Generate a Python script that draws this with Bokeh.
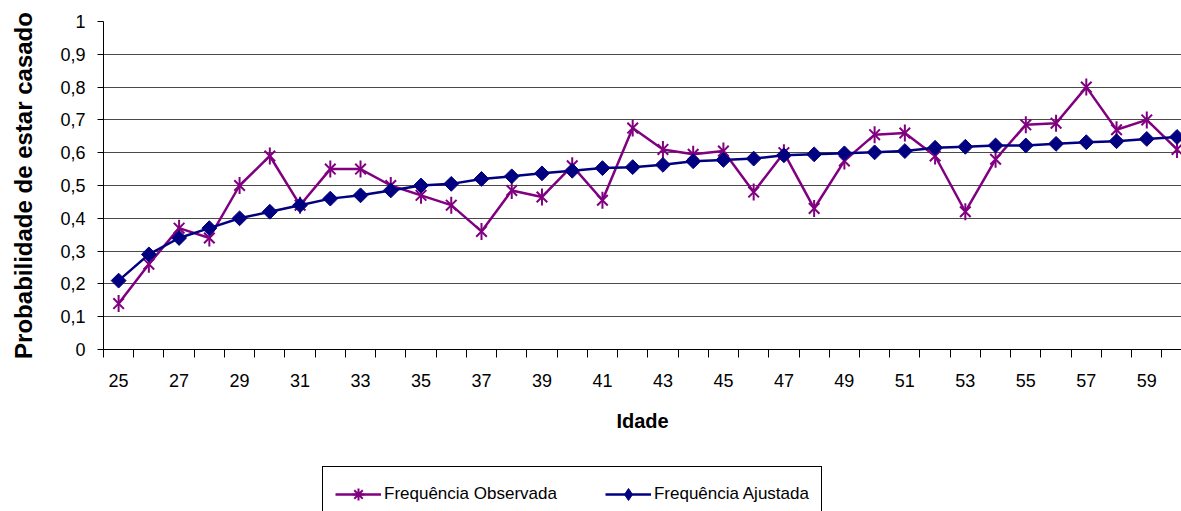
from bokeh.plotting import figure
from bokeh.models import Range1d, FixedTicker, Legend, LegendItem
from bokeh.layouts import column
from bokeh.embed import file_html
from bokeh.resources import INLINE
import math

# ---- data ----
ages = [25, 26, 27, 28, 29, 30, 31, 32, 33, 34, 35, 36, 37, 38, 39, 40, 41, 42,
        43, 44, 45, 46, 47, 48, 49, 50, 51, 52, 53, 54, 55, 56, 57, 58, 59, 60]
freq_observada = [0.14, 0.26, 0.37, 0.34, 0.50, 0.59, 0.44, 0.55, 0.55, 0.50, 0.47, 0.44,
                  0.36, 0.485, 0.465, 0.56, 0.455, 0.675, 0.61, 0.595, 0.605, 0.48, 0.60, 0.43,
                  0.575, 0.655, 0.66, 0.59, 0.42, 0.58, 0.685, 0.69, 0.80, 0.67, 0.70, 0.61]
freq_ajustada = [0.21, 0.29, 0.34, 0.37, 0.40, 0.42, 0.44, 0.46, 0.47, 0.485, 0.50, 0.505,
                 0.52, 0.528, 0.537, 0.545, 0.553, 0.556, 0.563, 0.574, 0.578, 0.582, 0.592, 0.595,
                 0.598, 0.601, 0.605, 0.615, 0.618, 0.622, 0.622, 0.627, 0.632, 0.635, 0.642, 0.648]
x_tick_labels = [25, 27, 29, 31, 33, 35, 37, 39, 41, 43, 45, 47, 49, 51, 53, 55, 57, 59]
y_ticks = [0, 0.1, 0.2, 0.3, 0.4, 0.5, 0.6, 0.7, 0.8, 0.9, 1.0]
y_tick_labels = ["0", "0,1", "0,2", "0,3", "0,4", "0,5", "0,6", "0,7", "0,8", "0,9", "1"]
series_names = ["Frequência Observada", "Frequência Ajustada"]
x_title = "Idade"
y_title = "Probabilidade de estar casado"

PURPLE = "#800080"
NAVY = "#000080"
FONT = "Liberation Sans"

W = 1181
H1 = 460
H2 = 51
left = 103
cat_px = 30.24
span = (W - left) / cat_px

p = figure(width=W, height=H1, output_backend="svg", toolbar_location=None,
           x_range=Range1d(ages[0] - 0.5, ages[0] - 0.5 + span), y_range=Range1d(0, 1),
           min_border_left=left, min_border_right=0, min_border_top=21,
           min_border_bottom=H1 - 349)
p.outline_line_color = None
p.background_fill_color = "white"
p.border_fill_color = "white"

# grid
p.xgrid.visible = False
p.ygrid.ticker = FixedTicker(ticks=y_ticks)
p.ygrid.grid_line_color = "#4a4a4a"
p.ygrid.grid_line_width = 1

# x axis
xa = p.xaxis[0]
xa.ticker = FixedTicker(ticks=x_tick_labels,
                        minor_ticks=[a - 0.5 for a in ages] + [ages[-1] + 0.5])
xa.major_tick_out = 0
xa.major_tick_in = 0
xa.minor_tick_out = 8
xa.minor_tick_in = 0
xa.minor_tick_line_color = "black"
xa.axis_line_color = "black"
xa.major_label_text_font = FONT
xa.major_label_text_font_size = "18px"
xa.major_label_text_color = "black"
xa.major_label_standoff = 16
xa.axis_label = x_title
xa.axis_label_text_font = FONT
xa.axis_label_text_font_style = "bold"
xa.axis_label_text_font_size = "20px"
xa.axis_label_text_color = "black"
xa.axis_label_standoff = 20

# y axis
ya = p.yaxis[0]
ya.ticker = FixedTicker(ticks=y_ticks, minor_ticks=[])
ya.major_label_overrides = {t: l for t, l in zip(y_ticks, y_tick_labels)}
ya.major_tick_out = 6
ya.major_tick_in = 0
ya.minor_tick_out = 0
ya.minor_tick_in = 0
ya.axis_line_color = "black"
ya.major_tick_line_color = "black"
ya.major_label_text_font = FONT
ya.major_label_text_font_size = "18px"
ya.major_label_text_color = "black"
ya.major_label_standoff = 12
ya.axis_label = y_title
ya.axis_label_text_font = FONT
ya.axis_label_text_font_style = "bold"
ya.axis_label_text_font_size = "24px"
ya.axis_label_text_color = "black"
ya.axis_label_standoff = 20

# series 1: observed
p.line(ages, freq_observada, line_color=PURPLE, line_width=2.5)
p.scatter(ages, freq_observada, marker="x", size=15, line_color=PURPLE, line_width=2)
p.scatter(ages, freq_observada, marker="dash", angle=math.pi / 2, size=17,
          line_color=PURPLE, line_width=2)

# series 2: fitted
p.line(ages, freq_ajustada, line_color=NAVY, line_width=2.5)
p.scatter(ages, freq_ajustada, marker="square", angle=math.pi / 4, size=10.5,
          fill_color=NAVY, line_color=NAVY, line_width=1)

# ---- legend strip (series drawn off-range so only the legend shows) ----
q = figure(width=W, height=H2, output_backend="svg", toolbar_location=None,
           x_range=Range1d(0, 1), y_range=Range1d(2, 3),
           x_axis_location=None, y_axis_location=None,
           min_border_left=0, min_border_right=0, min_border_top=0, min_border_bottom=0)
q.outline_line_color = None
q.xgrid.visible = False
q.ygrid.visible = False
q.background_fill_color = "white"
q.border_fill_color = "white"

k1 = q.line(ages, freq_observada, line_color=PURPLE, line_width=2.5)
k2 = q.scatter(ages, freq_observada, marker="asterisk", size=15, line_color=PURPLE,
               line_width=2)
k4 = q.line(ages, freq_ajustada, line_color=NAVY, line_width=2.5)
k5 = q.scatter(ages, freq_ajustada, marker="diamond", size=17, fill_color=NAVY,
               line_color=NAVY, line_width=1)

legend = Legend(items=[LegendItem(label=series_names[0], renderers=[k1, k2]),
                       LegendItem(label=series_names[1], renderers=[k4, k5])],
                orientation="horizontal", location=(322 - left, -11))
legend.border_line_color = "black"
legend.border_line_width = 1
legend.border_line_alpha = 1
legend.background_fill_color = "white"
legend.background_fill_alpha = 1
legend.padding = 12
legend.margin = 0
legend.spacing = 48
legend.glyph_width = 46
legend.glyph_height = 30
legend.label_standoff = 3
legend.label_text_font = FONT
legend.label_text_font_size = "17px"
legend.label_text_color = "black"
q.add_layout(legend, "center")

layout = column(p, q, spacing=0)
open("out.html", "w").write(file_html(layout, INLINE))
